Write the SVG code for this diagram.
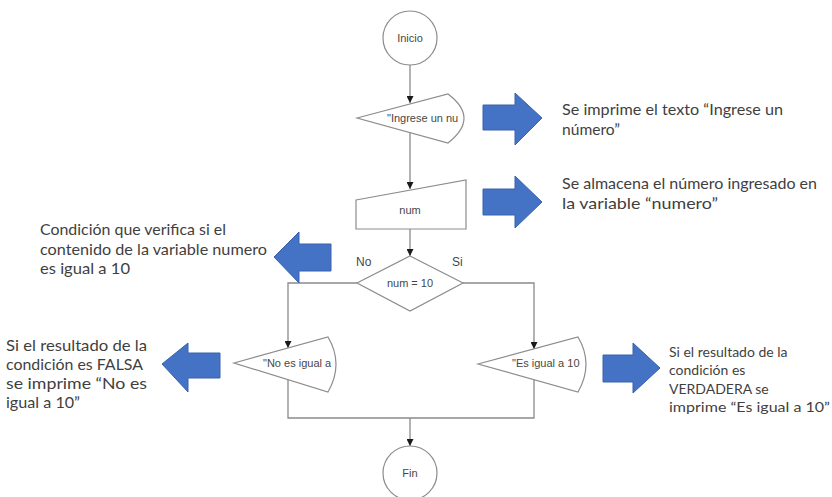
<svg xmlns="http://www.w3.org/2000/svg" width="832" height="497" viewBox="0 0 832 497">
  <style>
    .shape { fill: #ffffff; stroke: #8c8c8c; stroke-width: 1.2; }
    .lbl { font-family: "Liberation Sans", Arial, sans-serif; font-size: 11px; fill: #474747; }
    .flow { fill: none; stroke: #8a8a8a; stroke-width: 1.3; }
    .note { font-family: Lato, "Liberation Sans", sans-serif; font-size: 15px; fill: #3f3f3f; }
    .note-sm { font-family: Lato, "Liberation Sans", sans-serif; font-size: 14px; fill: #3f3f3f; }
    .note-lg { font-family: Lato, "Liberation Sans", sans-serif; font-size: 16px; fill: #3f3f3f; }
    .blk { fill: #4472c4; stroke: #3a63ad; stroke-width: 1; }
  </style>
  <defs>
    <marker id="tip" viewBox="0 0 10 10" refX="10" refY="5" markerWidth="7" markerHeight="7" markerUnits="userSpaceOnUse" orient="auto">
      <path d="M0,0 L10,5 L0,10 Z" fill="#1a1a1a"/>
    </marker>
    <clipPath id="clipIngrese"><path d="M357,118 L448,94 Q480,118 448,143 Z"/></clipPath>
    <clipPath id="clipNo"><path d="M234,363 L328,337 Q344,364 328,392 Z"/></clipPath>
    <clipPath id="clipSi"><path d="M478,364 L578,337 Q594,364 578,392 Z"/></clipPath>
  </defs>

  <rect width="832" height="497" fill="#ffffff"/>

  <!-- flow connectors -->
  <g id="connectors">
    <path class="flow" d="M410,65 L410,103" marker-end="url(#tip)"/>
    <path class="flow" d="M410,132 L410,189" marker-end="url(#tip)"/>
    <path class="flow" d="M410,229 L410,256" marker-end="url(#tip)"/>
    <path class="flow" d="M357,283 L288,283 L288,348" marker-end="url(#tip)"/>
    <path class="flow" d="M463,283 L534,283 L534,349" marker-end="url(#tip)"/>
    <path class="flow" d="M288,380 L288,418 L534,418 L534,380"/>
    <path class="flow" d="M410,418 L410,446" marker-end="url(#tip)"/>
  </g>

  <!-- flowchart nodes -->
  <g id="inicio">
    <circle class="shape" cx="410" cy="38" r="27"/>
    <text class="lbl" x="410" y="42" text-anchor="middle">Inicio</text>
  </g>

  <g id="mostrar-ingrese">
    <path class="shape" d="M357,118 L448,94 Q480,118 448,143 Z"/>
    <text class="lbl" x="387" y="122" clip-path="url(#clipIngrese)">"Ingrese un nu</text>
  </g>

  <g id="leer-num">
    <path class="shape" d="M356,200 L466,180 L466,229 L356,229 Z"/>
    <text class="lbl" x="410" y="214" text-anchor="middle">num</text>
  </g>

  <g id="decision">
    <path class="shape" d="M410,256 L463,283 L410,311 L357,283 Z"/>
    <text class="lbl" x="410" y="287" text-anchor="middle">num = 10</text>
    <text class="lbl" x="356" y="266" style="font-size:12px">No</text>
    <text class="lbl" x="452" y="266" style="font-size:12px">Si</text>
  </g>

  <g id="mostrar-no">
    <path class="shape" d="M234,363 L328,337 Q344,364 328,392 Z"/>
    <text class="lbl" x="263" y="367" clip-path="url(#clipNo)">"No es igual a</text>
  </g>

  <g id="mostrar-si">
    <path class="shape" d="M478,364 L578,337 Q594,364 578,392 Z"/>
    <text class="lbl" x="512" y="367" clip-path="url(#clipSi)">"Es igual a 10</text>
  </g>

  <g id="fin">
    <circle class="shape" cx="410" cy="473" r="27"/>
    <text class="lbl" x="410" y="477" text-anchor="middle">Fin</text>
  </g>

  <!-- block arrows pointing at the explanations -->
  <g id="flecha-1"><path class="blk" d="M483,105 L515,105 L515,93 L542,118 L515,145 L515,130 L483,130 Z"/></g>
  <g id="flecha-2"><path class="blk" d="M483,189 L515,189 L515,176 L542,202 L515,228 L515,215 L483,215 Z"/></g>
  <g id="flecha-3"><path class="blk" d="M331,244 L299,244 L299,232 L274,257 L299,283 L299,271 L331,271 Z"/></g>
  <g id="flecha-4"><path class="blk" d="M220,353 L188,353 L188,343 L162,364 L188,392 L188,378 L220,378 Z"/></g>
  <g id="flecha-5"><path class="blk" d="M603,355 L633,355 L633,343 L660,368 L633,393 L633,382 L603,382 Z"/></g>

  <!-- explanatory notes -->
  <g id="nota-1">
    <text class="note" x="562" y="115" textLength="221" lengthAdjust="spacingAndGlyphs">Se imprime el texto “Ingrese un</text>
    <text class="note" x="562" y="135" textLength="58" lengthAdjust="spacingAndGlyphs">número”</text>
  </g>
  <g id="nota-2">
    <text class="note" x="562" y="189" textLength="255" lengthAdjust="spacingAndGlyphs">Se almacena el número ingresado en</text>
    <text class="note" x="562" y="209" textLength="156" lengthAdjust="spacingAndGlyphs">la variable “numero”</text>
  </g>
  <g id="nota-3">
    <text class="note" x="40" y="235" textLength="186" lengthAdjust="spacingAndGlyphs">Condición que verifica si el</text>
    <text class="note" x="40" y="255" textLength="227" lengthAdjust="spacingAndGlyphs">contenido de la variable numero</text>
    <text class="note" x="40" y="274" textLength="90" lengthAdjust="spacingAndGlyphs">es igual a 10</text>
  </g>
  <g id="nota-4">
    <text class="note-lg" x="6" y="351" textLength="141" lengthAdjust="spacingAndGlyphs">Si el resultado de la</text>
    <text class="note-lg" x="6" y="370" textLength="137" lengthAdjust="spacingAndGlyphs">condición es FALSA</text>
    <text class="note-lg" x="6" y="389" textLength="141" lengthAdjust="spacingAndGlyphs">se imprime “No es</text>
    <text class="note-lg" x="6" y="408" textLength="74" lengthAdjust="spacingAndGlyphs">igual a 10”</text>
  </g>
  <g id="nota-5">
    <text class="note-sm" x="669" y="357">Si el resultado de la</text>
    <text class="note-sm" x="669" y="375">condición es</text>
    <text class="note-sm" x="669" y="394">VERDADERA se</text>
    <text class="note-sm" x="669" y="412" textLength="161" lengthAdjust="spacingAndGlyphs">imprime “Es igual a 10”</text>
  </g>
</svg>
